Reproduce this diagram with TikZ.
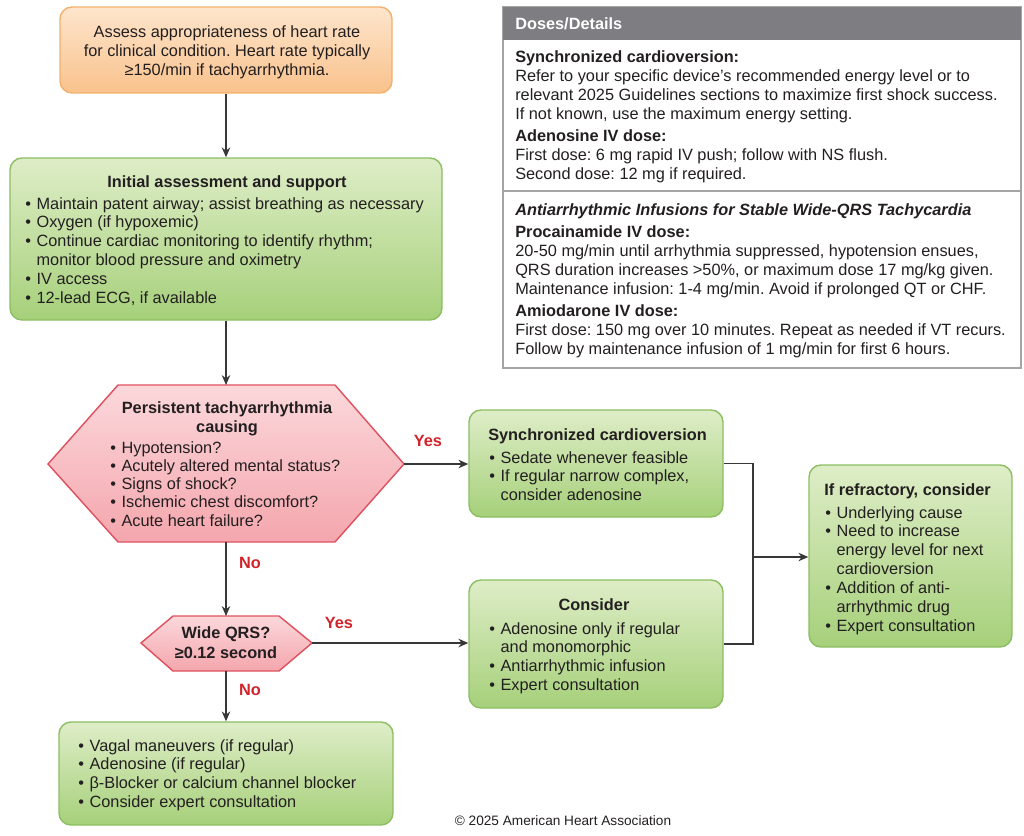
\documentclass[tikz,border=0pt]{standalone}
\usepackage{fontspec}
\setmainfont{Liberation Sans}
\usetikzlibrary{arrows.meta,fit}
\frenchspacing
\definecolor{ahaorangetop}{RGB}{253,229,204}
\definecolor{ahaorangebot}{RGB}{249,194,140}
\definecolor{ahaorangeline}{RGB}{243,176,110}
\definecolor{ahagreentop}{RGB}{222,237,199}
\definecolor{ahagreenbot}{RGB}{166,208,122}
\definecolor{ahagreenline}{RGB}{140,190,98}
\definecolor{ahapinktop}{RGB}{251,216,219}
\definecolor{ahapinkbot}{RGB}{244,166,173}
\definecolor{ahapinkline}{RGB}{222,80,94}
\definecolor{ahared}{RGB}{210,35,42}
\definecolor{ahagrey}{RGB}{125,125,130}
\definecolor{ahaframe}{RGB}{165,165,165}
\definecolor{ahatext}{RGB}{35,31,32}
\definecolor{ahaline}{RGB}{55,55,55}

\newcommand{\blist}[1]{\begin{tabular}[t]{@{}c@{\hspace{4pt}}l@{}}#1\end{tabular}}

\begin{document}
\begin{tikzpicture}[x=0.025cm, y=-0.025cm,
    every node/.style={font=\fontsize{11.6}{13.5}\selectfont, text=ahatext, inner sep=0pt},
    orangebox/.style={draw=ahaorangeline, line width=1pt, top color=ahaorangetop, bottom color=ahaorangebot, rounded corners=0.3cm},
    greenbox/.style={draw=ahagreenline, line width=1pt, top color=ahagreentop, bottom color=ahagreenbot, rounded corners=0.3cm},
    pinkhex/.style={draw=ahapinkline, line width=1pt, top color=ahapinktop, bottom color=ahapinkbot},
    flow/.style={draw=ahaline, line width=1.3pt, -{Stealth[length=7pt,width=6pt]}},
    joinline/.style={draw=ahaline, line width=1.3pt},
    answer/.style={font=\fontsize{11.6}{13.5}\selectfont\bfseries, text=ahared},
    boxtitle/.style={font=\fontsize{11.6}{13.5}\selectfont\bfseries}]
        \useasboundingbox (0,0) rectangle (1024,835);

        \node[orangebox, fit={(60,7) (392,93)}] (assess) {};
        \node[greenbox, fit={(10,158) (442,320)}] (init) {};
        \path[pinkhex] (48,464) -- (118,385) -- (335,385) -- (404,464) -- (335,542) -- (118,542) -- cycle;
        \path[pinkhex] (141,643) -- (173,616) -- (279,616) -- (312,643) -- (279,671) -- (173,671) -- cycle;
        \node[greenbox, fit={(469,410) (723,517)}] (sync) {};
        \node[greenbox, fit={(469,580) (723,708)}] (consider) {};
        \node[greenbox, fit={(809,465) (1012,647)}] (refr) {};
        \node[greenbox, fit={(59,722) (393,825)}] (vagal) {};

        \node[draw=ahaframe, line width=1.2pt, fit={(503,7) (1021,368)}] (doses) {};
        \node[fill=ahagrey, fit={(503,7) (1021,40)}] (doses-band) {};
        \draw[ahaframe, line width=1.2pt] (doses.west |- 0,191) -- (doses.east |- 0,191);

        \coordinate (pc-n) at (226,385);
        \coordinate (pc-e) at (404,464);
        \coordinate (pc-s) at (226,542);
        \coordinate (wq-n) at (226,616);
        \coordinate (wq-e) at (312,643);
        \coordinate (wq-s) at (226,671);
        \coordinate (join) at (753,557);

        \draw[flow] (assess.south) -- (assess.south |- init.north);
        \draw[flow] (init.south) -- (pc-n);
        \draw[flow] (pc-e) -- (pc-e -| sync.west);
        \draw[flow] (pc-s) -- (wq-n);
        \draw[flow] (wq-e) -- (wq-e -| consider.west);
        \draw[flow] (wq-s) -- (vagal.north);
        \draw[joinline] (sync.east) -| (join) |- (consider.east);
        \draw[flow] (join) -- (join -| refr.west);

        \node[align=center, anchor=base] (assess-txt) at (227,75)
          {Assess appropriateness of heart rate\\for clinical condition. Heart rate typically\\≥150/min if tachyarrhythmia.};

        \node[boxtitle, anchor=base] (init-ttl) at (227,187) {Initial assessment and support};
        \node[anchor=base west] (init-lst) at (25,209) {\blist{
          \textbullet & Maintain patent airway; assist breathing as necessary\\
          \textbullet & Oxygen (if hypoxemic)\\
          \textbullet & Continue cardiac monitoring to identify rhythm;\\
                      & monitor blood pressure and oximetry\\
          \textbullet & IV access\\
          \textbullet & 12-lead ECG, if available}};

        \node[boxtitle, align=center, anchor=base] (pc-ttl) at (227,432) {Persistent tachyarrhythmia\\causing};
        \node[anchor=base west, font=\fontsize{11.6}{13}\selectfont] (pc-lst) at (110,453) {\blist{
          \textbullet & Hypotension?\\
          \textbullet & Acutely altered mental status?\\
          \textbullet & Signs of shock?\\
          \textbullet & Ischemic chest discomfort?\\
          \textbullet & Acute heart failure?}};

        \node[align=center, anchor=base, font=\fontsize{11.6}{14.2}\selectfont\bfseries] (wq-txt) at (226,658)
          {Wide QRS?\\≥0.12 second};

        \node[boxtitle, anchor=base west] (sync-ttl) at (488,440) {Synchronized cardioversion};
        \node[anchor=base west] (sync-lst) at (489,463) {\blist{
          \textbullet & Sedate whenever feasible\\
          \textbullet & If regular narrow complex,\\
                      & consider adenosine}};

        \node[boxtitle, anchor=base] (cons-ttl) at (594,610) {Consider};
        \node[anchor=base west] (cons-lst) at (489,634) {\blist{
          \textbullet & Adenosine only if regular\\
                      & and monomorphic\\
          \textbullet & Antiarrhythmic infusion\\
          \textbullet & Expert consultation}};

        \node[boxtitle, anchor=base west] (refr-ttl) at (824,495) {If refractory, consider};
        \node[anchor=base west] (refr-lst) at (825,518) {\blist{
          \textbullet & Underlying cause\\
          \textbullet & Need to increase\\
                      & energy level for next\\
                      & cardioversion\\
          \textbullet & Addition of anti-\\
                      & arrhythmic drug\\
          \textbullet & Expert consultation}};

        \node[anchor=base west] (vagal-lst) at (78,751) {\blist{
          \textbullet & Vagal maneuvers (if regular)\\
          \textbullet & Adenosine (if regular)\\
          \textbullet & β-Blocker or calcium channel blocker\\
          \textbullet & Consider expert consultation}};

        \node[answer] (yes-a) at (428,441) {Yes};
        \node[answer] (no-a) at (250,563) {No};
        \node[answer] (yes-b) at (339,623) {Yes};
        \node[answer] (no-b) at (250,690) {No};

        \node[boxtitle, text=white, anchor=base west] (doses-hdr) at (515,29) {Doses/Details};
        \node[anchor=base west, align=left] (doses-a) at (515,179)
          {\textbf{Synchronized cardioversion:}\\
           Refer to your specific device’s recommended energy level or to\\
           relevant 2025 Guidelines sections to maximize first shock success.\\
           If not known, use the maximum energy setting.\\[1.5pt]
           \textbf{Adenosine IV dose:}\\
           First dose: 6 mg rapid IV push; follow with NS flush.\\
           Second dose: 12 mg if required.};
        \node[anchor=base west, align=left] (doses-b) at (515,354)
          {\textbf{\textit{Antiarrhythmic Infusions for Stable Wide-QRS Tachycardia}}\\[2pt]
           \textbf{Procainamide IV dose:}\\
           20-50 mg/min until arrhythmia suppressed, hypotension ensues,\\
           QRS duration increases >50\%, or maximum dose 17 mg/kg given.\\
           Maintenance infusion: 1-4 mg/min. Avoid if prolonged QT or CHF.\\[2pt]
           \textbf{Amiodarone IV dose:}\\
           First dose: 150 mg over 10 minutes. Repeat as needed if VT recurs.\\
           Follow by maintenance infusion of 1 mg/min for first 6 hours.};

        \node[font=\fontsize{9.7}{11}\selectfont] (aha) at (563,821) {© 2025 American Heart Association};
      \end{tikzpicture}
\end{document}
